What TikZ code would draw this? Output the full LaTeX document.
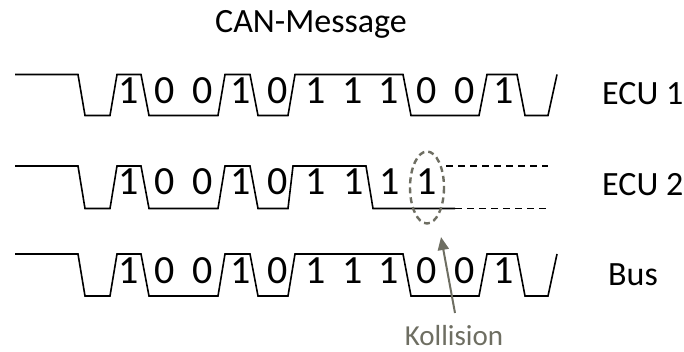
\documentclass[tikz,border=0pt]{standalone}
\usepackage{fontspec}
\setmainfont{Carlito}
\usetikzlibrary{arrows.meta}
\definecolor{annot}{RGB}{110,110,98}
\tikzset{
  wave/.style={line width=1.6pt, line join=miter, black},
  bitlabel/.style={font=\fontsize{40}{44}\selectfont, anchor=base, inner sep=0pt},
  rowlabel/.style={font=\fontsize{34}{38}\selectfont, anchor=base west, inner sep=0pt},
  tail/.style={line width=1.1pt, dash pattern=on 7pt off 5pt, black},
}
\begin{document}
\begin{tikzpicture}[x=1pt, y=-1pt]
  \useasboundingbox (0,0) rectangle (684,352);

  % title
  \node[font=\fontsize{34}{38}\selectfont, anchor=base, inner sep=0pt] (title) at (311,33) {CAN-Message};

  % ---- ECU 1 ----
  \def\hi{74.5}\def\lo{115.5}
  \draw[wave] (15,\hi) -- (78,\hi) -- (85,\lo) -- (110,\lo) -- (117,\hi) -- (141,\hi)
    -- (149,\lo) -- (218,\lo) -- (225,\hi) -- (250,\hi) -- (258,\lo) -- (288,\lo)
    -- (295,\hi) -- (403,\hi) -- (411,\lo) -- (479,\lo) -- (487,\hi) -- (517,\hi)
    -- (525,\lo) -- (548,\lo) -- (557,\hi);
  \foreach \x/\b [count=\i] in {129/1,165/0,203/0,241/1,278/0,316/1,353/1,389/1,427/0,465/0,504/1}
    \node[bitlabel] (a\i) at (\x,103.5) {\b};
  \node[rowlabel] (ecu1) at (602,105) {ECU 1};

  % ---- ECU 2 ----
  \def\hi{166}\def\lo{208.5}
  \draw[wave] (15,\hi) -- (78,\hi) -- (85,\lo) -- (110,\lo) -- (117,\hi) -- (141,\hi)
    -- (149,\lo) -- (218,\lo) -- (225,\hi) -- (250,\hi) -- (258,\lo) -- (288,\lo)
    -- (293,\hi) -- (366,\hi) -- (373,\lo) -- (455,\lo);
  \draw[tail] (455,\lo) -- (548,\lo);
  \draw[tail] (446,\hi) -- (548,\hi);
  \foreach \x/\b [count=\i] in {129/1,165/0,203/0,241/1,278/0,316/1,354/1,390/1,427/1}
    \node[bitlabel] (b\i) at (\x,195) {\b};
  \node[rowlabel] (ecu2) at (602,196) {ECU 2};
  \draw[annot, line width=2.4pt, dash pattern=on 6pt off 4pt]
    (427,187.5) ellipse [x radius=17, y radius=36];

  % ---- Bus ----
  \def\hi{254}\def\lo{296}
  \draw[wave] (15,\hi) -- (78,\hi) -- (85,\lo) -- (110,\lo) -- (117,\hi) -- (141,\hi)
    -- (149,\lo) -- (218,\lo) -- (225,\hi) -- (250,\hi) -- (258,\lo) -- (288,\lo)
    -- (295,\hi) -- (403,\hi) -- (411,\lo) -- (479,\lo) -- (487,\hi) -- (517,\hi)
    -- (525,\lo) -- (548,\lo) -- (557,\hi);
  \foreach \x/\b [count=\i] in {129/1,165/0,203/0,241/1,278/0,316/1,353/1,389/1,427/0,465/0,504/1}
    \node[bitlabel] (c\i) at (\x,283) {\b};
  \node[rowlabel] (bus) at (608,285) {Bus};

  % collision marker
  \node[font=\fontsize{29}{32}\selectfont, text=annot, anchor=base, inner sep=0pt] (kol) at (454,345) {Kollision};
  \coordinate (kolfoot) at (455,313);
  \coordinate (kolhead) at (441,237);
  \draw[annot, line width=2pt, -{Triangle[length=13pt,width=11pt]}] (kolfoot) -- (kolhead);
\end{tikzpicture}
\end{document}
